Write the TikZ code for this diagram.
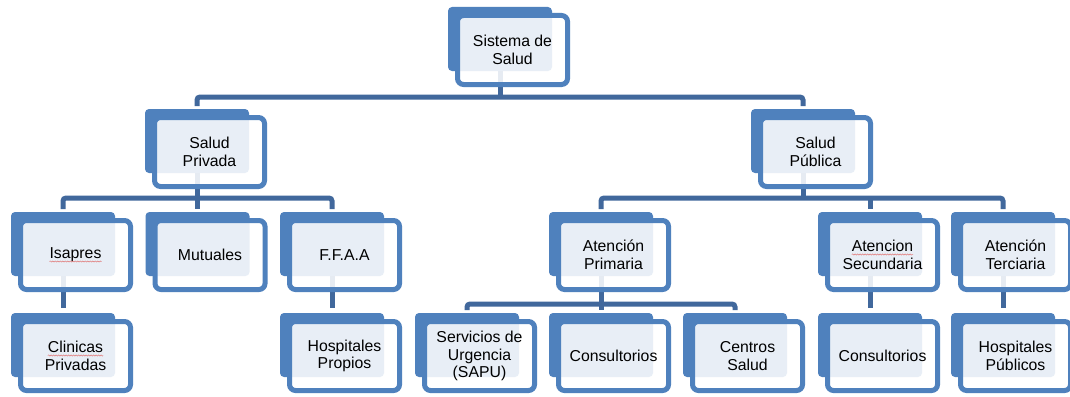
\documentclass[tikz,border=0pt]{standalone}
\usepackage{fontspec}
\setmainfont{Liberation Sans}
\usetikzlibrary{backgrounds,decorations.pathmorphing}
\definecolor{boxblue}{HTML}{4F81BD}
\definecolor{linkblue}{HTML}{41689C}
\definecolor{spellred}{HTML}{E07878}
\tikzset{
  backbox/.style={fill=boxblue, draw=none, rounded corners=4pt, minimum width=104pt, minimum height=64pt, inner sep=0pt, outer sep=0pt},
  frontbox/.style={draw=boxblue, line width=5pt, fill=white, fill opacity=0.87, text opacity=1, rounded corners=6pt,
    minimum width=110pt, minimum height=69pt, inner sep=0pt, outer sep=0pt, align=center,
    font=\fontsize{15.8}{17.5}\selectfont},
  link/.style={draw=linkblue, line width=5pt},
  spell/.style={draw=spellred, line width=0.5pt, decorate, decoration={snake, amplitude=0.6pt, segment length=2.5pt}},
}
\newcommand\orgbox[4]{%
  \node[backbox] (#1b) at (#2,#3+32) {};
  \node[frontbox] (#1) at (#2+12.5,#3+43) {#4};
}
\begin{document}
\begin{tikzpicture}[x=1pt,y=-1pt]
\useasboundingbox (0,0) rectangle (1070,396);
\orgbox{sys}{500}{7}{Sistema de\\Salud}
\orgbox{priv}{197}{109}{Salud\\Privada}
\orgbox{pub}{803}{109}{Salud\\Pública}
\orgbox{isa}{63}{212}{Isapres}
\orgbox{mut}{197.5}{212}{Mutuales}
\orgbox{ffaa}{332}{212}{F.F.A.A}
\orgbox{prim}{601}{212}{Atención\\Primaria}
\orgbox{sec}{870}{212}{Atencion\\Secundaria}
\orgbox{ter}{1003}{212}{Atención\\Terciaria}
\orgbox{cli}{63}{313}{Clinicas\\Privadas}
\orgbox{hpro}{332}{313}{Hospitales\\Propios}
\orgbox{sapu}{467}{313}{Servicios de\\Urgencia\\(SAPU)}
\orgbox{cons}{601}{313}{Consultorios}
\orgbox{cen}{735}{313}{Centros\\Salud}
\orgbox{cont}{870}{313}{Consultorios}
\orgbox{hpub}{1003}{313}{Hospitales\\Públicos}
% spell-check marks
\draw[spell] ([xshift=-26pt,yshift=-6.5pt]isa.center) -- ([xshift=26pt,yshift=-6.5pt]isa.center);
\draw[spell] ([xshift=-27.7pt,yshift=0.5pt]cli.center) -- ([xshift=27.7pt,yshift=0.5pt]cli.center);
\draw[spell] ([xshift=-30.7pt,yshift=0.5pt]sec.center) -- ([xshift=30.7pt,yshift=0.5pt]sec.center);
\begin{scope}[on background layer]
  \fill[white] (0,0) rectangle (1070,396);
  \coordinate (busA) at (0,97);
  \coordinate (busB) at (0,198);
  \coordinate (busC) at (0,304);
  % level 0
  \draw[link] (sysb.south) -- (sysb.south |- busA);
  \draw[link, rounded corners=3pt, shorten <=3pt, shorten >=3pt] (privb.north) -- (privb.north |- busA) -- (pubb.north |- busA) -- (pubb.north);
  % Salud Privada
  \draw[link] (privb.south) -- (privb.south |- busB);
  \draw[link, rounded corners=3pt, shorten <=3pt, shorten >=3pt] (isab.north) -- (isab.north |- busB) -- (ffaab.north |- busB) -- (ffaab.north);
  \draw[link, shorten >=3pt] (mutb.north |- busB) -- (mutb.north);
  % Salud Publica
  \draw[link] (pubb.south) -- (pubb.south |- busB);
  \draw[link, rounded corners=3pt, shorten <=3pt, shorten >=3pt] (primb.north) -- (primb.north |- busB) -- (terb.north |- busB) -- (terb.north);
  \draw[link, shorten >=3pt] (secb.north |- busB) -- (secb.north);
  % level 2 -> 3
  \draw[link, shorten >=5pt] (isab.south) -- (clib.north);
  \draw[link, shorten >=5pt] (ffaab.south) -- (hprob.north);
  \draw[link] (primb.south) -- (primb.south |- busC);
  \draw[link, rounded corners=3pt, shorten <=3pt, shorten >=3pt] (sapub.north) -- (sapub.north |- busC) -- (cenb.north |- busC) -- (cenb.north);
  \draw[link, shorten >=3pt] (consb.north |- busC) -- (consb.north);
  \draw[link, shorten >=5pt] (secb.south) -- (contb.north);
  \draw[link, shorten >=5pt] (terb.south) -- (hpubb.north);
\end{scope}
\end{tikzpicture}
\end{document}
